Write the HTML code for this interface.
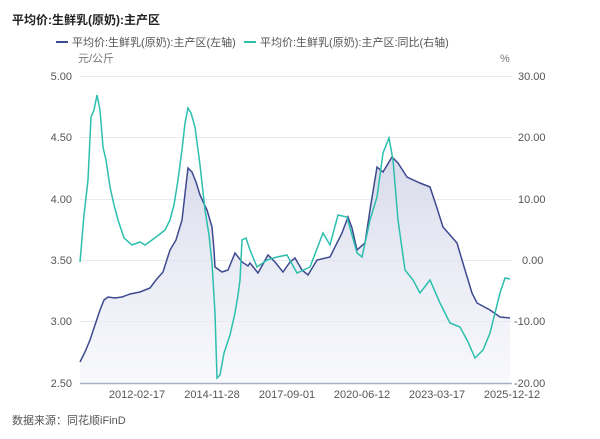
<!DOCTYPE html>
<html><head><meta charset="utf-8"><style>
body{margin:0;background:#fff;}
svg{display:block;font-family:"Liberation Sans","Noto Sans CJK SC",sans-serif;}
</style></head><body>
<svg width="600" height="439" viewBox="0 0 600 439">
<defs><linearGradient id="g" x1="0" y1="0" x2="0" y2="1"><stop offset="0" stop-color="#cfd2e6" stop-opacity="0.8"/><stop offset="1" stop-color="#f4f5fa" stop-opacity="0.6"/></linearGradient></defs>
<text x="12" y="24" font-size="12" font-weight="bold" fill="#222">平均价:生鲜乳(原奶):主产区</text>
<line x1="56" y1="42" x2="68" y2="42" stroke="#3d4a8f" stroke-width="2"/>
<text x="72" y="46" font-size="11" fill="#555">平均价:生鲜乳(原奶):主产区(左轴)</text>
<line x1="244" y1="42" x2="256" y2="42" stroke="#2cbfae" stroke-width="2"/>
<text x="260" y="46" font-size="11" fill="#555">平均价:生鲜乳(原奶):主产区:同比(右轴)</text>
<text x="78" y="62" font-size="11" fill="#777">元/公斤</text>
<text x="500" y="62" font-size="11" fill="#777">%</text>
<g stroke="#e8eaf2" stroke-width="1">
<line x1="80" y1="76.5" x2="512" y2="76.5"/><line x1="80" y1="137.5" x2="512" y2="137.5"/><line x1="80" y1="199.5" x2="512" y2="199.5"/><line x1="80" y1="260.5" x2="512" y2="260.5"/><line x1="80" y1="321.5" x2="512" y2="321.5"/>
</g>
<g font-size="11" fill="#555" text-anchor="end">
<text x="72" y="80">5.00</text><text x="72" y="141">4.50</text><text x="72" y="203">4.00</text><text x="72" y="264">3.50</text><text x="72" y="325">3.00</text><text x="72" y="387">2.50</text>
</g>
<g font-size="11" fill="#555" text-anchor="start">
<text x="518" y="80">30.00</text><text x="518" y="141">20.00</text><text x="518" y="203">10.00</text><text x="522" y="264">0.00</text><text x="514" y="325">-10.00</text><text x="514" y="387">-20.00</text>
</g>
<path d="M80,362 L85,352 90,340 95,325 100,310 104,300 108,297 115,298 122,297 130,294 140,292 150,288 156,280 163,272 170,250 176,240 182,220 186,185 188,168 192,172 196,182 200,195 207,210 212,227 214,250 215,267 222,272 228,270 235,253 242,262 248,266 250,263 258,273 268,255 275,262 283,272 290,262 295,258 302,270 308,275 317,260 330,257 342,233 348,217 352,228 357,250 365,243 370,210 377,167 383,172 392,157 398,163 407,177 420,183 430,187 436,205 443,227 457,243 465,270 472,293 477,303 490,310 500,317 510,318 L510,383 L80,383 Z" fill="url(#g)"/>
<path d="M80,362 L85,352 90,340 95,325 100,310 104,300 108,297 115,298 122,297 130,294 140,292 150,288 156,280 163,272 170,250 176,240 182,220 186,185 188,168 192,172 196,182 200,195 207,210 212,227 214,250 215,267 222,272 228,270 235,253 242,262 248,266 250,263 258,273 268,255 275,262 283,272 290,262 295,258 302,270 308,275 317,260 330,257 342,233 348,217 352,228 357,250 365,243 370,210 377,167 383,172 392,157 398,163 407,177 420,183 430,187 436,205 443,227 457,243 465,270 472,293 477,303 490,310 500,317 510,318" fill="none" stroke="#3d4a8f" stroke-width="1.5"/>
<path d="M80,262 L84,215 88,180 91,117 94,110 97,95 100,110 103,147 106,160 110,187 114,205 118,220 124,238 132,245 140,242 145,245 152,240 160,234 165,230 170,220 174,205 178,180 182,150 185,123 188,108 191,113 195,127 200,165 205,210 209,235 212,263 215,313 217,378 220,375 224,353 230,335 235,313 238,295 240,280 242,240 246,238 250,250 257,267 267,260 277,257 287,255 297,273 310,267 323,233 330,245 338,215 347,217 357,253 362,257 370,220 377,197 383,153 389,138 393,160 398,220 405,270 413,280 420,293 430,280 440,303 450,323 460,327 468,342 475,358 483,350 490,333 500,293 505,278 510,279" fill="none" stroke="#2cbfae" stroke-width="1.5"/>
<line x1="80" y1="383.5" x2="512" y2="383.5" stroke="#a9aec8" stroke-width="1.5"/>
<g font-size="11" fill="#555" text-anchor="middle">
<text x="137" y="398">2012-02-17</text><text x="212" y="398">2014-11-28</text><text x="287" y="398">2017-09-01</text><text x="362" y="398">2020-06-12</text><text x="437" y="398">2023-03-17</text><text x="512" y="398">2025-12-12</text>
</g>
<text x="12" y="424" font-size="11" fill="#555">数据来源：同花顺iFinD</text>
</svg>
</body></html>
